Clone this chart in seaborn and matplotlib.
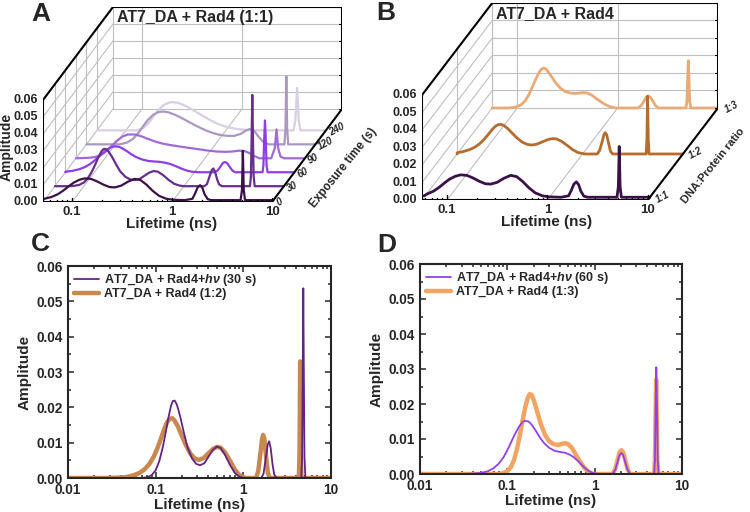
import numpy as np
import seaborn as sns
from matplotlib import pyplot as plt
from matplotlib.ticker import FormatStrFormatter, MultipleLocator, LogLocator, NullFormatter

# lifetime distributions: lifetime (ns) / amplitude
# exposure series (panel A); 0 s is the same sample as 1:1 in panel B
t_0s = [0.051, 0.06, 0.07, 0.08, 0.09, 0.1, 0.115, 0.13, 0.15, 0.17, 0.2, 0.23, 0.26, 0.3,
        0.35, 0.41, 0.47, 0.54, 0.62, 0.72, 0.85, 1.0, 1.3, 1.55, 1.65, 1.75, 1.85, 1.95,
        2.05, 2.2, 2.4, 4.7, 4.85, 4.95, 5.05, 5.2, 10]
a_0s = [0.0008, 0.0018, 0.0035, 0.0058, 0.0082, 0.0102, 0.0120, 0.0128, 0.0125, 0.0112,
        0.0091, 0.0077, 0.0075, 0.0085, 0.0108, 0.0125, 0.0118, 0.0090, 0.0055, 0.0025,
        0.0008, 0.0002, 0, 0.0008, 0.004, 0.0075, 0.0088, 0.0072, 0.0035, 0.0006, 0, 0,
        0.006, 0.029, 0.006, 0, 0]

t_30s = [0.01, 0.051, 0.07, 0.08, 0.09, 0.1, 0.11, 0.12, 0.13, 0.14, 0.15, 0.157, 0.165,
         0.175, 0.19, 0.21, 0.23, 0.26, 0.29, 0.32, 0.36, 0.4, 0.45, 0.5, 0.55, 0.62, 0.7,
         0.8, 0.9, 1.0, 1.6, 1.7, 1.8, 1.9, 1.97, 2.05, 2.15, 2.25, 2.4, 4.58, 4.68, 4.76,
         4.83, 4.9, 4.98, 5.1, 10]
a_30s = [0, 0, 0, 0.0002, 0.0008, 0.0022, 0.0048, 0.0085, 0.0128, 0.0172, 0.0205, 0.0218,
         0.0219, 0.0207, 0.0175, 0.0128, 0.0088, 0.0055, 0.0040, 0.0036, 0.0042, 0.0060,
         0.0080, 0.0089, 0.0085, 0.0065, 0.0038, 0.0014, 0.0004, 0, 0, 0.0012, 0.0055,
         0.0095, 0.0104, 0.0085, 0.0040, 0.0010, 0, 0, 0.006, 0.03, 0.0537, 0.03, 0.006,
         0, 0]

t_60s = [0.01, 0.03, 0.04, 0.05, 0.06, 0.07, 0.08, 0.09, 0.1, 0.11, 0.12, 0.135, 0.15,
         0.16, 0.175, 0.19, 0.21, 0.235, 0.26, 0.3, 0.35, 0.4, 0.45, 0.5, 0.57, 0.65, 0.75,
         0.85, 0.95, 1.1, 1.6, 1.72, 1.83, 1.93, 2.02, 2.12, 2.24, 2.38, 2.55, 4.8, 4.9,
         4.98, 5.08, 5.18, 5.27, 5.4, 10]
a_60s = [0, 0, 0.0001, 0.0003, 0.0008, 0.0017, 0.0030, 0.0047, 0.0068, 0.0090, 0.0110,
         0.0134, 0.0149, 0.0152, 0.0150, 0.0141, 0.0125, 0.0105, 0.0090, 0.0075, 0.0066,
         0.0063, 0.0061, 0.0057, 0.0049, 0.0036, 0.0020, 0.0009, 0.0003, 0, 0, 0.0012,
         0.0035, 0.0055, 0.0060, 0.0054, 0.0034, 0.0012, 0, 0, 0.004, 0.018, 0.0305,
         0.018, 0.004, 0, 0]

t_90s = [0.051, 0.07, 0.08, 0.09, 0.1, 0.115, 0.13, 0.15, 0.17, 0.2, 0.23, 0.27, 0.32,
         0.38, 0.45, 0.55, 0.68, 0.85, 1.05, 1.3, 1.6, 1.9, 2.2, 2.5, 2.8, 3.1, 3.5, 4.6,
         5.0, 5.2, 5.4, 5.7, 6.2, 10]
a_90s = [0, 0.0003, 0.0008, 0.0018, 0.0035, 0.0068, 0.0100, 0.0128, 0.0140, 0.0140,
         0.0130, 0.0114, 0.0098, 0.0086, 0.0078, 0.0070, 0.0062, 0.0054, 0.0046, 0.0040,
         0.0038, 0.0040, 0.0045, 0.0042, 0.0030, 0.0014, 0, 0, 0.006, 0.017, 0.006, 0.001,
         0, 0]

t_120s = [0.051, 0.11, 0.13, 0.15, 0.17, 0.19, 0.21, 0.24, 0.27, 0.3, 0.34, 0.39, 0.45,
          0.52, 0.6, 0.7, 0.82, 0.95, 1.1, 1.3, 1.55, 1.8, 2.0, 2.2, 2.45, 2.7, 3.0, 3.4,
          4.9, 5.02, 5.12, 5.22, 5.35, 10]
a_120s = [0, 0, 0.0010, 0.0032, 0.0068, 0.0108, 0.0142, 0.0175, 0.0190, 0.0193, 0.0188,
          0.0175, 0.0158, 0.0138, 0.0118, 0.0098, 0.0080, 0.0066, 0.0056, 0.0050, 0.0050,
          0.0062, 0.0080, 0.0090, 0.0078, 0.0045, 0.0015, 0, 0, 0.009, 0.040, 0.009, 0, 0]

t_240s = [0.051, 0.13, 0.15, 0.17, 0.19, 0.21, 0.24, 0.27, 0.3, 0.34, 0.39, 0.45, 0.52,
          0.6, 0.7, 0.82, 0.95, 1.1, 1.3, 1.55, 1.85, 2.2, 4.75, 4.95, 5.15, 5.35, 5.55, 10]
a_240s = [0, 0, 0.0015, 0.0045, 0.0085, 0.0120, 0.0150, 0.0164, 0.0166, 0.0160, 0.0146,
          0.0126, 0.0104, 0.0082, 0.0060, 0.0040, 0.0026, 0.0016, 0.0008, 0.0003, 0.0001,
          0, 0, 0.006, 0.025, 0.006, 0, 0]

# DNA:protein ratio series (panel B)
t_r12 = [0.01, 0.03, 0.045, 0.055, 0.065, 0.075, 0.085, 0.095, 0.105, 0.115, 0.125, 0.135,
         0.145, 0.155, 0.165, 0.18, 0.2, 0.22, 0.25, 0.28, 0.31, 0.35, 0.4, 0.45, 0.5, 0.55,
         0.62, 0.7, 0.8, 0.9, 1.05, 1.4, 1.48, 1.56, 1.63, 1.68, 1.74, 1.82, 1.9, 2.0, 4.3,
         4.38, 4.45, 4.52, 4.6, 10]
a_r12 = [0, 0, 0.0002, 0.0007, 0.0014, 0.0025, 0.0040, 0.0060, 0.0085, 0.0112, 0.0138,
         0.0158, 0.0168, 0.0169, 0.0162, 0.0145, 0.0118, 0.0094, 0.0068, 0.0055, 0.0051,
         0.0056, 0.0070, 0.0082, 0.0088, 0.0086, 0.0072, 0.0050, 0.0024, 0.0008, 0, 0,
         0.0020, 0.0065, 0.0108, 0.0122, 0.0110, 0.0060, 0.0015, 0, 0, 0.008, 0.033, 0.008,
         0, 0]

t_r13 = [0.01, 0.05, 0.08, 0.09, 0.1, 0.11, 0.12, 0.13, 0.14, 0.15, 0.16, 0.17, 0.18, 0.19,
         0.2, 0.22, 0.24, 0.27, 0.3, 0.34, 0.38, 0.42, 0.46, 0.5, 0.55, 0.6, 0.67, 0.75,
         0.83, 0.95, 1.6, 1.72, 1.83, 1.93, 2.02, 2.12, 2.24, 2.38, 2.55, 4.8, 4.9, 4.98,
         5.06, 5.14, 5.22, 5.35, 10]
a_r13 = [0, 0, 0, 0.0002, 0.0008, 0.0020, 0.0042, 0.0075, 0.0115, 0.0155, 0.0190, 0.0215,
         0.0228, 0.0226, 0.0212, 0.0178, 0.0145, 0.0112, 0.0094, 0.0085, 0.0083, 0.0086,
         0.0088, 0.0085, 0.0074, 0.0058, 0.0038, 0.0020, 0.0008, 0, 0, 0.0014, 0.0040,
         0.0062, 0.0068, 0.0062, 0.0040, 0.0014, 0, 0, 0.004, 0.016, 0.027, 0.016, 0.004,
         0, 0]

exposure_labels = ["0", "30", "60", "90", "120", "240"]
exposure_colors = ["#3b1248", "#66308a", "#8e3ee6", "#a06ad8", "#ab97c2", "#d8cfe3"]
ratio_labels = ["1:1", "1:2", "1:3"]
ratio_colors = ["#3b1248", "#b56c2e", "#e9aa76"]
amp_ticks = [0.0, 0.01, 0.02, 0.03, 0.04, 0.05, 0.06]

sns.set_style("ticks")
plt.rcParams["font.family"] = ["Liberation Sans", "DejaVu Sans"]
plt.rcParams["font.weight"] = "bold"
plt.rcParams["axes.labelweight"] = "bold"
plt.rcParams["mathtext.fontset"] = "custom"
plt.rcParams["mathtext.it"] = "Liberation Sans:italic"
plt.rcParams["mathtext.rm"] = "Liberation Sans"

W, H = 750, 512
fig = plt.figure(figsize=(7.5, 5.12), dpi=100)


def box(l, t, r, b):
    return [l / W, 1 - b / H, (r - l) / W, (b - t) / H]


def frame3d(ax, xmin, xmax, dx, dy, depths):
    grey = dict(color="#bfbfbf", lw=0.8, zorder=1)
    dark = dict(color="black", lw=1.5, zorder=6)
    top = amp_ticks[-1]
    xb, xe = xmin + dx, xmax + dx
    for a in amp_ticks:
        ax.plot([xmin, xb], [a, a + dy], **grey)
        ax.plot([xb, xe], [a + dy, a + dy], **grey)
        ax.plot([xmin - 0.035, xmin], [a, a], color="black", lw=1.0, zorder=6)
        ax.plot([xe - 0.03, xe], [a + dy, a + dy], color="black", lw=0.8, zorder=6)
    for lt in (-1, 0):
        ax.plot([lt + dx, lt + dx], [dy, top + dy], **grey)
        ax.plot([lt, lt + dx], [0, dy], **grey)
    for d in depths[1:]:
        ax.plot([xmin + d * dx] * 2, [d * dy, top + d * dy], **grey)
    ax.plot([xb, xb], [dy, top + dy], **grey)
    # log ticks on the front lifetime axis
    for dec in (-2, -1, 0):
        for m in range(1, 10):
            lt = dec + np.log10(m)
            if xmin <= lt <= xmax:
                h = 0.0026 if m == 1 else 0.0013
                ax.plot([lt, lt], [0, h], color="black", lw=1.0, zorder=6)
    ax.plot([xmax, xmax], [0, 0.0026], color="black", lw=1.0, zorder=6)
    ax.plot([xmin, xmax], [0, 0], **dark)
    ax.plot([xmin, xmin], [0, top], **dark)
    ax.plot([xmin, xb], [top, top + dy], **dark)
    ax.plot([xb, xe], [top + dy, top + dy], **dark)
    ax.plot([xe, xe], [dy, top + dy], **dark)
    ax.plot([xmax, xe], [0, dy], **dark)
    for a in amp_ticks:
        ax.annotate(f"{a:.2f}", (xmin, a), xytext=(-3.5, 0), textcoords="offset points",
                    ha="right", va="center", fontsize=9)
    for lt, s in zip((-1, 0, 1), ("0.1", "1", "10")):
        ax.annotate(s, (lt, 0), xytext=(0, -3), textcoords="offset points",
                    ha="center", va="top", fontsize=9.5)


def waterfall(ax, curves, colors, depths, xmin, dx, dy, lw):
    for (t, a), c, d in reversed(list(zip(curves, colors, depths))):
        lt = np.maximum(np.log10(t), xmin)
        sns.lineplot(x=lt + d * dx, y=np.asarray(a) + d * dy, ax=ax, color=c, lw=lw,
                     sort=False, estimator=None, zorder=3)


# ---- panel A ----
A_XMIN, A_XMAX, A_DX, A_DY = -1.29, 1.0, 0.70, 0.0547
axA = fig.add_axes(box(43, 7, 342, 202))
axA.set_xlim(A_XMIN, A_XMAX + A_DX)
axA.set_ylim(0, 0.06 + A_DY)
axA.axis("off")
depthA = [0.02 + 0.15 * k for k in range(len(exposure_labels))]
frame3d(axA, A_XMIN, A_XMAX, A_DX, A_DY, depthA)
waterfall(axA, [(t_0s, a_0s), (t_30s, a_30s), (t_60s, a_60s), (t_90s, a_90s),
                (t_120s, a_120s), (t_240s, a_240s)],
          exposure_colors, depthA, A_XMIN, A_DX, A_DY, 1.6)
for s, d in zip(exposure_labels, depthA):
    axA.annotate(s, (A_XMAX + d * A_DX, d * A_DY), xytext=(2.5, -2), textcoords="offset points",
                 ha="left", va="center", rotation=28, rotation_mode="anchor",
                 fontsize=7, fontstyle="italic")
axA.text(A_XMIN + A_DX + 0.04, 0.06 + A_DY - 0.006, "AT7_DA + Rad4 (1:1)",
         ha="left", va="center", fontsize=11.5)
fig.text(172 / W, 1 - 224 / H, "Lifetime (ns)", ha="center", va="center", fontsize=11)
fig.text(7 / W, 1 - 147 / H, "Amplitude", ha="center", va="center", rotation=90, fontsize=10)
fig.text(343 / W, 1 - 168 / H, "Exposure time (s)", ha="center", va="center", rotation=51,
         fontsize=8.5)

# ---- panel B ----
B_XMIN, B_XMAX, B_DX, B_DY = -1.25, 1.0, 0.70, 0.0526
axB = fig.add_axes(box(422, 3, 718, 200))
axB.set_xlim(B_XMIN, B_XMAX + B_DX)
axB.set_ylim(0, 0.06 + B_DY)
axB.axis("off")
depthB = [0.03, 0.5, 1.0]
frame3d(axB, B_XMIN, B_XMAX, B_DX, B_DY, depthB)
waterfall(axB, [(t_0s, a_0s), (t_r12, a_r12), (t_r13, a_r13)],
          ratio_colors, depthB, B_XMIN, B_DX, B_DY, 2.0)
for s, d in zip(ratio_labels, depthB):
    axB.annotate(s, (B_XMAX + d * B_DX, d * B_DY), xytext=(5, -2), textcoords="offset points",
                 ha="left", va="center", rotation=28, rotation_mode="anchor",
                 fontsize=7, fontstyle="italic")
axB.text(B_XMIN + B_DX + 0.04, 0.06 + B_DY - 0.006, "AT7_DA + Rad4",
         ha="left", va="center", fontsize=11.5)
fig.text(547 / W, 1 - 222 / H, "Lifetime (ns)", ha="center", va="center", fontsize=11)
fig.text(713 / W, 1 - 166 / H, "DNA:Protein ratio", ha="center", va="center", rotation=51,
         fontsize=8)


# ---- panels C and D ----
def lifetime_panel(ax, purple, orange, pcol, ocol, plab, olab):
    ax.set_xscale("log")
    sns.lineplot(x=orange[0], y=orange[1], ax=ax, color=ocol, lw=3.2, label=olab,
                 sort=False, estimator=None)
    sns.lineplot(x=purple[0], y=purple[1], ax=ax, color=pcol, lw=1.3, label=plab,
                 sort=False, estimator=None)
    ax.set_xlim(0.01, 10)
    ax.set_ylim(0, 0.06)
    ax.set_xticks([0.01, 0.1, 1, 10])
    ax.set_xticklabels(["0.01", "0.1", "1", "10"])
    ax.xaxis.set_minor_locator(LogLocator(base=10, subs=np.arange(2, 10)))
    ax.xaxis.set_minor_formatter(NullFormatter())
    ax.set_yticks(amp_ticks)
    ax.yaxis.set_major_formatter(FormatStrFormatter("%.2f"))
    ax.yaxis.set_minor_locator(MultipleLocator(0.005))
    ax.tick_params(which="both", direction="in", top=True, right=True, width=1.1,
                   labelsize=9.8)
    ax.tick_params(which="major", length=4)
    ax.tick_params(which="minor", length=2)
    for sp in ax.spines.values():
        sp.set_linewidth(1.5)
    ax.set_xlabel("Lifetime (ns)", fontsize=11, labelpad=1)
    ax.set_ylabel("Amplitude", fontsize=11, labelpad=4)
    h, l = ax.get_legend_handles_labels()
    ax.legend(h[::-1], l[::-1], loc="upper left", frameon=False, fontsize=9,
              handlelength=2.0, handletextpad=0.4, labelspacing=0.0,
              borderaxespad=0.3, borderpad=0.2)


axC = fig.add_axes(box(68, 266, 331, 478))
lifetime_panel(axC, (t_30s, a_30s), (t_r12, a_r12), "#642383", "#c8884f",
               "AT7_DA + Rad4+$h\\nu$ (30 s)", "AT7_DA + Rad4 (1:2)")

axD = fig.add_axes(box(420, 264, 682, 474))
lifetime_panel(axD, (t_60s, a_60s), (t_r13, a_r13), "#9340ec", "#f2a462",
               "AT7_DA + Rad4+$h\\nu$ (60 s)", "AT7_DA + Rad4 (1:3)")

for s, x, y in (("A", 41, 14), ("B", 386, 13), ("C", 40, 244), ("D", 387, 245)):
    fig.text(x / W, 1 - y / H, s, ha="center", va="center", fontsize=19)

fig.savefig("out.png", dpi=100)
